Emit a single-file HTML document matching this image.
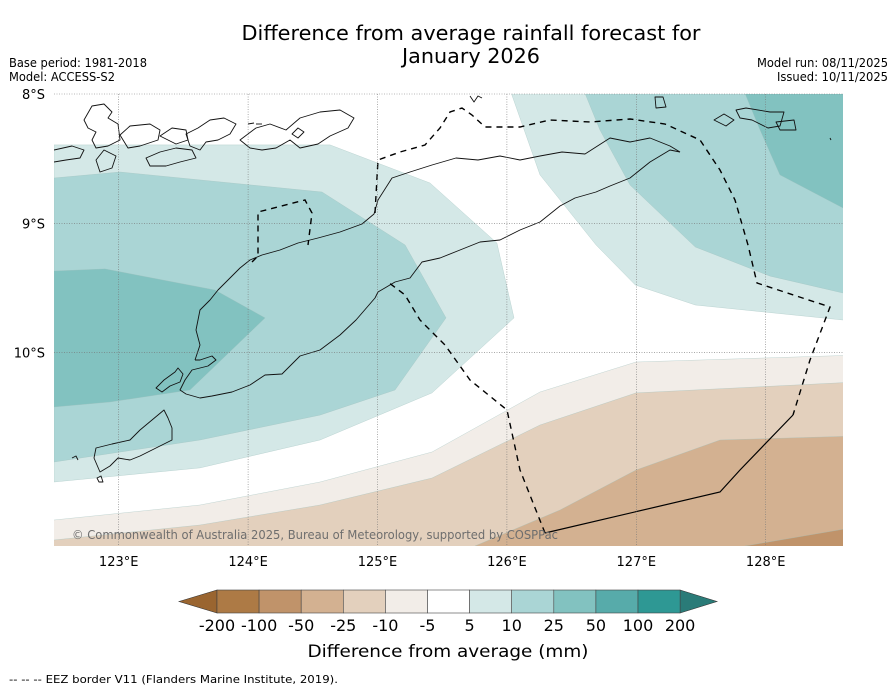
<!DOCTYPE html>
<html><head><meta charset="utf-8"><style>
html,body{margin:0;padding:0;background:#fff;}
svg{display:block;font-family:"DejaVu Sans","Liberation Sans",sans-serif;}
</style></head><body>
<svg id="chart" width="896" height="690" viewBox="0 0 896 690">
<g>
<text x="471" y="40" font-size="20" text-anchor="middle" textLength="459" lengthAdjust="spacingAndGlyphs">Difference from average rainfall forecast for</text>
<text x="471" y="63" font-size="20" text-anchor="middle" textLength="138" lengthAdjust="spacingAndGlyphs">January 2026</text>
<text x="9" y="67" font-size="12" textLength="138" lengthAdjust="spacingAndGlyphs">Base period: 1981-2018</text>
<text x="9" y="81" font-size="12" textLength="106" lengthAdjust="spacingAndGlyphs">Model: ACCESS-S2</text>
<text x="888" y="67" font-size="12" text-anchor="end" textLength="131" lengthAdjust="spacingAndGlyphs">Model run: 08/11/2025</text>
<text x="888" y="81" font-size="12" text-anchor="end" textLength="111" lengthAdjust="spacingAndGlyphs">Issued: 10/11/2025</text>
</g>
<defs><clipPath id="mapclip"><rect x="54" y="94" width="789" height="452"/></clipPath></defs>
<g id="map" clip-path="url(#mapclip)"></g>
<g id="overlay"></g>
<text x="72" y="539" font-size="12" fill="#6e6e6e" textLength="486" lengthAdjust="spacingAndGlyphs">© Commonwealth of Australia 2025, Bureau of Meteorology, supported by COSPPac</text>
<g id="axes"></g>
<g id="cbar"></g>
<text x="448" y="657" font-size="17" text-anchor="middle" textLength="281" lengthAdjust="spacingAndGlyphs">Difference from average (mm)</text>
<text x="9" y="683" font-size="11" textLength="329" lengthAdjust="spacingAndGlyphs">--  --  -- EEZ border V11 (Flanders Marine Institute, 2019).</text>
</svg>
<script>
// Axis data
const lonTicks = [123,124,125,126,127,128];
const latTicks = [8,9,10];
const cbLabels = ["-200","-100","-50","-25","-10","-5","5","10","25","50","100","200"];
const cbColors = ["#ad7a45","#c0936a","#d3b191","#e3d0bd","#f2ede8","#ffffff","#d4e8e7","#aad5d5","#82c2c0","#57abaa","#2e9894"];
// Contour regions (lon, lat°S)
const wet1Lon = [122.5,124.633,125.406,125.923,126.055,125.421,124.556,123.628,122.5];
const wet1Lat = [8.394,8.394,8.688,9.152,9.732,10.312,10.676,10.892,11.001];
const wet2Lon = [122.5,123.010,124.571,125.213,125.529,125.135,124.556,123.628,122.5];
const wet2Lat = [8.650,8.603,8.758,9.168,9.732,10.289,10.483,10.676,10.846];
const wet3Lon = [122.5,122.894,123.744,124.131,123.551,122.933,122.5];
const wet3Lat = [9.369,9.353,9.516,9.732,10.289,10.382,10.421];
const wetR1Lon = [126.001,128.7,128.7,128.597,127.456,126.992,126.689,126.256];
const wetR1Lat = [7.9,7.9,9.748,9.748,9.632,9.477,9.168,8.626];
const wetR2Lon = [126.565,128.7,128.7,128.597,128.033,127.456,126.951,126.719];
const wetR2Lat = [7.9,7.9,9.539,9.539,9.408,9.183,8.704,8.278];
const wetR3Lon = [127.801,128.7,128.7,128.597,128.11,127.956];
const wetR3Lat = [7.9,7.9,8.882,8.882,8.626,8.278];
const dry1Lon = [122.4,122.5,123.628,124.556,125.421,126.256,126.998,128.7,128.7,122.4];
const dry1Lat = [11.295,11.295,11.179,11.001,10.769,10.305,10.073,10.019,11.7,11.7];
const dry2Lon = [122.4,122.5,123.628,124.556,125.421,126.256,126.998,128.7,128.7,122.4];
const dry2Lat = [11.449,11.449,11.333,11.179,10.970,10.560,10.312,10.227,11.7,11.7];
const dry3Lon = [125.753,126.410,126.998,127.647,128.7,128.7];
const dry3Lat = [11.496,11.217,10.908,10.676,10.645,11.7];
const dry4Lon = [127.840,128.7,128.7];
const dry4Lat = [11.496,11.349,11.7];

const NS='http://www.w3.org/2000/svg';
function xS(lon){return 54+(lon-122.5)*129.4;}
function yS(lat){return 94+(lat-8)*129.3;}
const map=document.getElementById('map');
function mk(tag,attrs,parent){const e=document.createElementNS(NS,tag);for(const k in attrs)e.setAttribute(k,attrs[k]);parent.appendChild(e);return e;}
function poly(lons,lats,fill,name){
  const pts=lons.map((l,i)=>xS(l).toFixed(1)+','+yS(lats[i]).toFixed(1)).join(' ');
  const p=mk('polygon',{points:pts,fill:fill,stroke:'#9fbfbd','stroke-width':0.5,'stroke-opacity':0.6},map);
  
  
}
poly(dry1Lon,dry1Lat,cbColors[4],'contour-dry-5-10');
poly(dry2Lon,dry2Lat,cbColors[3],'contour-dry-10-25');
poly(dry3Lon,dry3Lat,cbColors[2],'contour-dry-25-50');
poly(dry4Lon,dry4Lat,cbColors[1],'contour-dry-50-100');
poly(wet1Lon,wet1Lat,cbColors[6],'contour-wet-5-10-west');
poly(wet2Lon,wet2Lat,cbColors[7],'contour-wet-10-25-west');
poly(wet3Lon,wet3Lat,cbColors[8],'contour-wet-25-50-west');
poly(wetR1Lon,wetR1Lat,cbColors[6],'contour-wet-5-10-east');
poly(wetR2Lon,wetR2Lat,cbColors[7],'contour-wet-10-25-east');
poly(wetR3Lon,wetR3Lat,cbColors[8],'contour-wet-25-50-east');

// Basemap coastlines (pixel geometry)
const coast=[
 "M84,120 L92,106 L104,104 L112,112 L108,118 L118,124 L120,140 L108,146 L96,148 L92,140 L96,132 L88,128 Z",
 "M120,135 L130,126 L150,124 L160,130 L158,140 L140,146 L128,148 Z",
 "M160,136 L172,128 L186,130 L188,140 L176,144 Z",
 "M186,134 L198,128 L210,120 L224,118 L236,124 L230,134 L218,140 L206,142 L200,150 L190,146 Z",
 "M160,152 L176,148 L192,150 L196,158 L180,162 L166,166 L150,166 L146,158 Z",
 "M96,160 L104,150 L116,156 L112,168 L100,172 Z",
 "M54,150 L72,146 L84,150 L80,158 L66,160 L54,162",
 "M240,140 L256,128 L270,124 L286,130 L300,118 L320,112 L340,110 L354,118 L348,128 L330,136 L318,144 L300,148 L290,140 L276,148 L262,150 L250,148 Z",
 "M292,134 L298,128 L304,132 L298,138 Z",
 "M248,124 L254,123","M256,124 L262,124",
 "M470,96 L474,102 L478,96 L482,98",
 "M655,97 L663,97 L666,107 L656,108 Z",
 "M714,120 L724,114 L734,120 L726,126 Z",
 "M736,110 L746,108 L770,112 L784,112 L780,126 L768,128 L752,120 L740,118 Z",
 "M776,122 L794,120 L796,130 L780,130 Z",
 "M830,138 L831,140",
 // Timor north coast
 "M195,360 L200,345 L196,330 L200,310 L210,300 L218,290 L240,268 L250,260 L262,255 L280,250 L298,243 L318,238 L340,232 L362,224 L374,214 L378,200 L392,178 L410,172 L432,165 L456,158 L478,160 L500,156 L520,160 L540,156 L562,152 L585,154 L610,138 L630,142 L650,138 L670,146 L680,152",
 // Timor south coast
 "M680,152 L670,150 L650,162 L630,178 L610,186 L596,192 L575,198 L560,206 L540,222 L520,230 L500,240 L480,242 L460,250 L440,258 L422,262 L410,278 L395,282 L378,292 L375,298 L356,320 L340,335 L320,350 L300,356 L282,374 L265,375 L250,385 L232,392 L212,396 L200,398 L186,394 L180,390 L185,380 L192,370 L208,366 L216,360 L212,356 L200,360 L195,360",
 // Rote-ish
 "M175,372 L178,368 L183,374 L180,382 L170,386 L162,392 L156,388 L164,380 Z",
 // Sawu / southwest islands
 "M94,458 L96,448 L112,444 L130,440 L140,430 L152,420 L164,410 L168,418 L172,428 L172,440 L160,446 L148,452 L140,456 L130,460 L118,458 L110,466 L100,472 Z",
 "M72,458 L76,456 L78,460",
 "M97,478 L101,476 L103,482 L99,482 Z"
];
coast.forEach((d,i)=>{
  const p=mk('path',{d:d,fill:'none',stroke:'#111','stroke-width':0.9,'stroke-linejoin':'round'},map);
  
  
});
// EEZ borders
const eezDash=[
 "M545,533 L520,470 L507,410 L470,380 L445,345 L420,320 L405,295 L388,282",
 "M375,213 L378,160 L400,152 L425,145 L440,128 L450,112 L462,108 L472,115 L485,127 L520,127 L550,120 L590,122 L630,119 L665,124 L700,140 L720,170 L735,200 L748,245 L757,283 L830,307 L810,360 L793,415",
 "M252,262 L258,256 L258,212 L305,200 L312,213 L308,245"
];
eezDash.forEach(d=>{
  const p=mk('path',{d:d,fill:'none',stroke:'#000','stroke-width':1.4,'stroke-dasharray':'6,5'},map);
  
  
});
const eezSolid=mk('path',{d:"M545,533 L720,492 L740,470 L793,415",fill:'none',stroke:'#000','stroke-width':1.2},map);



// Gridlines & ticks
const axes=document.getElementById('axes');
const ov=document.getElementById('overlay');
lonTicks.forEach(l=>{
  const g=mk('line',{x1:xS(l),x2:xS(l),y1:94,y2:546,stroke:'#777','stroke-width':0.6,'stroke-dasharray':'1,1.5'},ov);
  
  
  const t=mk('text',{x:xS(l),y:566,'font-size':13,'text-anchor':'middle'},axes);
  t.textContent=l+'°E';
  
  
});
latTicks.forEach(l=>{
  const g=mk('line',{x1:54,x2:843,y1:yS(l),y2:yS(l),stroke:'#777','stroke-width':0.6,'stroke-dasharray':'1,1.5'},ov);
  
  
  const t=mk('text',{x:45,y:yS(l)+5,'font-size':13,'text-anchor':'end'},axes);
  t.textContent=l+'°S';
  
  
});

// Colorbar
const cb=document.getElementById('cbar');
const cx0=217,cw=42.1,cy=590,ch=23;
const lt=mk('polygon',{points:`179,${cy+ch/2} ${cx0},${cy} ${cx0},${cy+ch}`,fill:'#9a6530',stroke:'#333','stroke-width':0.6},cb);


const rx=cx0+cw*cbColors.length;
const rt=mk('polygon',{points:`${rx},${cy} 717,${cy+ch/2} ${rx},${cy+ch}`,fill:'#2a7b78',stroke:'#333','stroke-width':0.6},cb);


cbColors.forEach((c,i)=>{
  const r=mk('rect',{x:cx0+i*cw,y:cy,width:cw,height:ch,fill:c,stroke:'#444','stroke-width':0.6},cb);
  
  
});
cbLabels.forEach((s,i)=>{
  const t=mk('text',{x:cx0+i*cw,y:631,'font-size':16,'text-anchor':'middle'},cb);
  t.textContent=s;
  
  
});
</script>
</body></html>
